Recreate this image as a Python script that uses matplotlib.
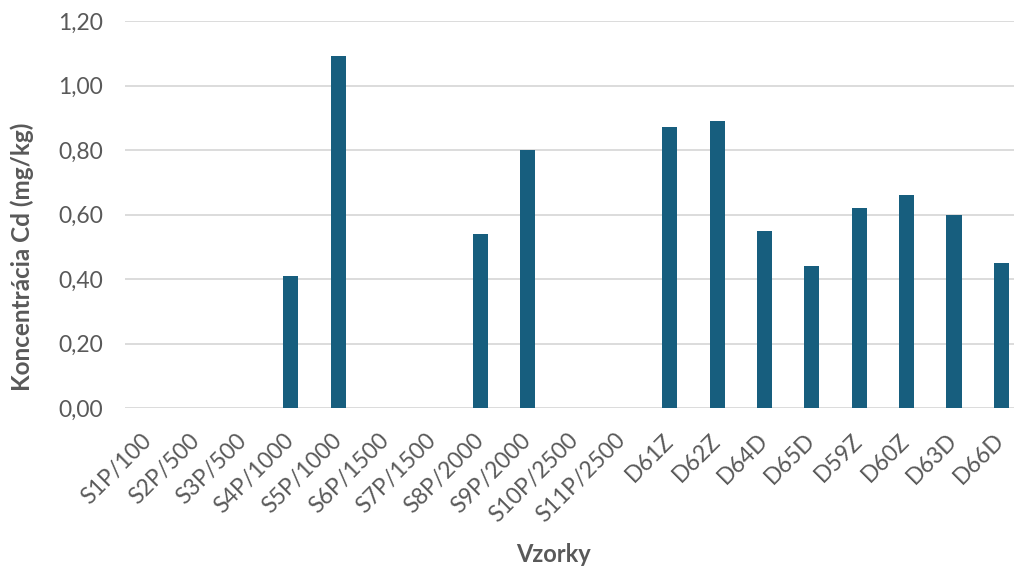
import matplotlib
matplotlib.use("Agg")
import matplotlib.pyplot as plt
from matplotlib.ticker import FuncFormatter

samples = ["S1P/100", "S2P/500", "S3P/500", "S4P/1000", "S5P/1000", "S6P/1500",
           "S7P/1500", "S8P/2000", "S9P/2000", "S10P/2500", "S11P/2500",
           "D61Z", "D62Z", "D64D", "D65D", "D59Z", "D60Z", "D63D", "D66D"]
cd_values = [0, 0, 0, 0.41, 1.09, 0, 0, 0.54, 0.80, 0, 0,
             0.87, 0.89, 0.55, 0.44, 0.62, 0.66, 0.60, 0.45]
y_ticks = [0.0, 0.2, 0.4, 0.6, 0.8, 1.0, 1.2]

plt.rcParams["font.family"] = ["Lato", "DejaVu Sans"]
text_color = "#595959"

fig = plt.figure(figsize=(10.14, 5.68), dpi=100)
# plot area runs slightly past the right edge of the canvas
ax = fig.add_axes([125 / 1014, 1 - 408 / 568, (1025 - 125) / 1014, (408 - 21) / 568])

x = range(len(samples))
ax.bar(x, cd_values, width=0.32, color="#175E7E", zorder=3)

ax.set_xlim(-0.5, len(samples) - 0.5)
ax.set_ylim(0, 1.2)
ax.set_yticks(y_ticks)
ax.yaxis.set_major_formatter(FuncFormatter(lambda v, p: f"{v:.2f}".replace(".", ",")))
ax.grid(axis="y", color="#D9D9D9", linewidth=1.3, zorder=0)
for s in ax.spines.values():
    s.set_visible(False)

ax.set_xticks(list(x))
ax.set_xticklabels(samples, rotation=45, ha="right", va="center", rotation_mode="anchor")
ax.tick_params(axis="both", length=0, labelsize=16.5, labelcolor=text_color)
ax.tick_params(axis="y", pad=16)
ax.tick_params(axis="x", pad=21)

fig.text(553 / 1014, 1 - 555 / 568, "Vzorky", ha="center", va="center", fontsize=17,
         fontweight="bold", color=text_color)
fig.text(22 / 1014, 1 - 257 / 568, "Koncentrácia Cd (mg/kg)", ha="center", va="center",
         rotation=90, fontsize=17.5, fontweight="bold", color=text_color)

fig.savefig("out.png", dpi=100)
